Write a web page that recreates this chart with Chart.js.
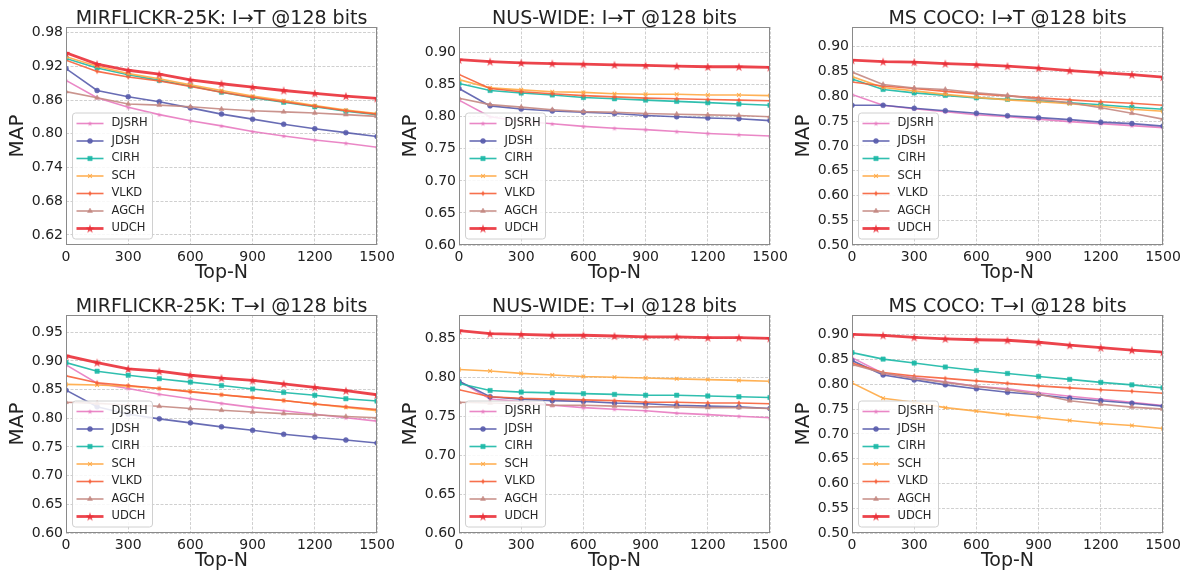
<!DOCTYPE html>
<html>
<head>
<meta charset="utf-8">
<script src="https://cdn.jsdelivr.net/npm/chart.js@4.4.1/dist/chart.umd.min.js"></script>
<style>
  body { margin: 0; background: #fff; width: 1185px; height: 576px; position: relative; overflow: hidden; }
  canvas { position: absolute; }
</style>
</head>
<body>
<canvas id="p0" width="405" height="288" style="left:0;top:0"></canvas>
<canvas id="p1" width="405" height="288" style="left:393px;top:0"></canvas>
<canvas id="p2" width="405" height="288" style="left:786px;top:0"></canvas>
<canvas id="p3" width="405" height="288" style="left:0;top:288px"></canvas>
<canvas id="p4" width="405" height="288" style="left:393px;top:288px"></canvas>
<canvas id="p5" width="405" height="288" style="left:786px;top:288px"></canvas>
<script>
// x positions (Top-N) shared by every panel
const topN = [0, 150, 300, 450, 600, 750, 900, 1050, 1200, 1350, 1500];
const methods = ['DJSRH', 'JDSH', 'CIRH', 'SCH', 'VLKD', 'AGCH', 'UDCH'];

// rows follow the order of `methods`
const mirflickrI2T = [
  [0.895, 0.864, 0.847, 0.834, 0.823, 0.814, 0.804, 0.796, 0.789, 0.783, 0.776],
  [0.916, 0.877, 0.866, 0.857, 0.846, 0.835, 0.826, 0.817, 0.809, 0.802, 0.795],
  [0.934, 0.917, 0.905, 0.895, 0.885, 0.874, 0.864, 0.856, 0.848, 0.840, 0.834],
  [0.937, 0.920, 0.907, 0.898, 0.887, 0.877, 0.867, 0.859, 0.850, 0.842, 0.836],
  [0.931, 0.911, 0.901, 0.894, 0.884, 0.874, 0.865, 0.857, 0.849, 0.841, 0.835],
  [0.875, 0.864, 0.853, 0.851, 0.848, 0.844, 0.841, 0.839, 0.837, 0.834, 0.831],
  [0.944, 0.924, 0.913, 0.906, 0.896, 0.889, 0.883, 0.877, 0.872, 0.867, 0.863]
];
const nuswideI2T = [
  [0.826, 0.800, 0.793, 0.789, 0.785, 0.782, 0.780, 0.777, 0.774, 0.772, 0.770],
  [0.844, 0.817, 0.812, 0.809, 0.807, 0.805, 0.802, 0.800, 0.798, 0.797, 0.794],
  [0.852, 0.841, 0.837, 0.834, 0.830, 0.828, 0.826, 0.824, 0.822, 0.820, 0.818],
  [0.858, 0.845, 0.842, 0.839, 0.838, 0.836, 0.835, 0.835, 0.834, 0.834, 0.833],
  [0.866, 0.844, 0.839, 0.836, 0.833, 0.831, 0.829, 0.828, 0.827, 0.826, 0.825],
  [0.829, 0.819, 0.815, 0.811, 0.808, 0.807, 0.805, 0.804, 0.803, 0.802, 0.800],
  [0.889, 0.886, 0.884, 0.883, 0.882, 0.881, 0.880, 0.879, 0.878, 0.878, 0.877]
];
const mscocoI2T = [
  [0.804, 0.782, 0.775, 0.769, 0.763, 0.759, 0.754, 0.749, 0.745, 0.741, 0.737],
  [0.782, 0.782, 0.776, 0.771, 0.766, 0.761, 0.757, 0.753, 0.748, 0.745, 0.740],
  [0.835, 0.814, 0.807, 0.802, 0.797, 0.794, 0.791, 0.787, 0.783, 0.778, 0.774],
  [0.840, 0.818, 0.811, 0.804, 0.798, 0.793, 0.789, 0.785, 0.780, 0.774, 0.770],
  [0.829, 0.821, 0.816, 0.810, 0.805, 0.801, 0.797, 0.793, 0.789, 0.786, 0.782],
  [0.849, 0.824, 0.817, 0.814, 0.807, 0.802, 0.794, 0.787, 0.777, 0.766, 0.754],
  [0.873, 0.870, 0.869, 0.866, 0.864, 0.861, 0.857, 0.852, 0.848, 0.844, 0.839]
];
const mirflickrT2I = [
  [0.893, 0.861, 0.852, 0.842, 0.834, 0.826, 0.819, 0.813, 0.807, 0.801, 0.795],
  [0.849, 0.820, 0.807, 0.799, 0.792, 0.785, 0.779, 0.772, 0.767, 0.762, 0.757],
  [0.897, 0.882, 0.875, 0.869, 0.863, 0.857, 0.851, 0.845, 0.840, 0.834, 0.830],
  [0.859, 0.858, 0.856, 0.852, 0.847, 0.841, 0.836, 0.831, 0.825, 0.819, 0.813],
  [0.874, 0.862, 0.857, 0.852, 0.846, 0.841, 0.836, 0.831, 0.825, 0.820, 0.815],
  [0.828, 0.826, 0.823, 0.821, 0.817, 0.814, 0.811, 0.808, 0.806, 0.803, 0.801],
  [0.909, 0.897, 0.886, 0.882, 0.875, 0.870, 0.866, 0.860, 0.854, 0.848, 0.841]
];
const nuswideT2I = [
  [0.795, 0.772, 0.769, 0.764, 0.761, 0.759, 0.757, 0.754, 0.752, 0.750, 0.748],
  [0.795, 0.775, 0.772, 0.770, 0.769, 0.767, 0.766, 0.764, 0.763, 0.762, 0.760],
  [0.792, 0.783, 0.781, 0.780, 0.779, 0.778, 0.777, 0.777, 0.776, 0.775, 0.774],
  [0.810, 0.808, 0.805, 0.803, 0.801, 0.800, 0.799, 0.798, 0.797, 0.796, 0.795],
  [0.784, 0.775, 0.773, 0.772, 0.771, 0.770, 0.768, 0.768, 0.767, 0.767, 0.766],
  [0.768, 0.767, 0.766, 0.764, 0.764, 0.763, 0.762, 0.762, 0.761, 0.761, 0.760],
  [0.860, 0.856, 0.855, 0.854, 0.854, 0.853, 0.852, 0.852, 0.851, 0.851, 0.850]
];
const mscocoT2I = [
  [0.854, 0.822, 0.814, 0.805, 0.796, 0.791, 0.783, 0.776, 0.770, 0.764, 0.757],
  [0.848, 0.819, 0.809, 0.799, 0.791, 0.784, 0.779, 0.772, 0.767, 0.762, 0.756],
  [0.864, 0.851, 0.843, 0.835, 0.828, 0.822, 0.816, 0.810, 0.804, 0.799, 0.793],
  [0.803, 0.772, 0.764, 0.753, 0.746, 0.739, 0.733, 0.727, 0.721, 0.717, 0.711],
  [0.843, 0.824, 0.817, 0.812, 0.807, 0.802, 0.797, 0.793, 0.789, 0.786, 0.782],
  [0.840, 0.823, 0.812, 0.804, 0.796, 0.789, 0.780, 0.767, 0.760, 0.754, 0.750],
  [0.901, 0.899, 0.895, 0.892, 0.890, 0.889, 0.885, 0.879, 0.874, 0.869, 0.865]
];

const titles = [
  'MIRFLICKR-25K: I→T @128 bits', 'NUS-WIDE: I→T @128 bits', 'MS COCO: I→T @128 bits',
  'MIRFLICKR-25K: T→I @128 bits', 'NUS-WIDE: T→I @128 bits', 'MS COCO: T→I @128 bits'
];
const yTicksMirI2T = [0.62, 0.68, 0.74, 0.80, 0.86, 0.92, 0.98];
const yTicksNusI2T = [0.60, 0.65, 0.70, 0.75, 0.80, 0.85, 0.90];
const yTicksCocoI2T = [0.50, 0.55, 0.60, 0.65, 0.70, 0.75, 0.80, 0.85, 0.90];
const yTicksMirT2I = [0.60, 0.65, 0.70, 0.75, 0.80, 0.85, 0.90, 0.95];
const yTicksNusT2I = [0.60, 0.65, 0.70, 0.75, 0.80, 0.85];
const yTicksCocoT2I = [0.50, 0.55, 0.60, 0.65, 0.70, 0.75, 0.80, 0.85, 0.90];
const xTicks = [0, 300, 600, 900, 1200, 1500];

const panelData = [mirflickrI2T, nuswideI2T, mscocoI2T, mirflickrT2I, nuswideT2I, mscocoT2I];
const panelTicks = [yTicksMirI2T, yTicksNusI2T, yTicksCocoI2T, yTicksMirT2I, yTicksNusT2I, yTicksCocoT2I];
const panelRange = [[0.602, 0.99], [0.60, 0.94], [0.50, 0.94], [0.60, 0.98], [0.60, 0.88], [0.50, 0.94]];

const FONT = "'DejaVu Sans', sans-serif";
const colors = ['rgba(232,122,192,0.9)', 'rgba(88,92,172,0.9)', 'rgba(26,184,166,0.9)',
                'rgba(255,168,66,0.9)', 'rgba(246,96,58,0.9)', 'rgba(196,136,130,0.9)', 'rgba(234,48,56,0.9)'];

// custom marker shapes matplotlib has and Chart.js does not
function starMarker(r, color) {
  const c = document.createElement('canvas');
  const s = Math.ceil(r * 2 + 2);
  c.width = c.height = s;
  const g = c.getContext('2d');
  g.translate(s / 2, s / 2 + r * 0.1);
  g.beginPath();
  for (let i = 0; i < 10; i++) {
    const rr = i % 2 ? r * 0.382 : r;
    const a = -Math.PI / 2 + i * Math.PI / 5;
    g.lineTo(rr * Math.cos(a), rr * Math.sin(a));
  }
  g.closePath();
  g.fillStyle = color;
  g.fill();
  return c;
}
function thinDiamond(h, w, color) {
  const c = document.createElement('canvas');
  c.width = Math.ceil(w * 2 + 2); c.height = Math.ceil(h * 2 + 2);
  const g = c.getContext('2d');
  const cx = c.width / 2, cy = c.height / 2;
  g.beginPath();
  g.moveTo(cx, cy - h); g.lineTo(cx + w, cy); g.lineTo(cx, cy + h); g.lineTo(cx - w, cy);
  g.closePath();
  g.fillStyle = color;
  g.fill();
  return c;
}

const markers = [
  { pointStyle: starMarker(2.8, colors[0]), pointRadius: 3, pointBorderWidth: 0 },
  { pointStyle: 'circle', pointRadius: 2.5, pointBorderWidth: 0.5 },
  { pointStyle: 'rect', pointRadius: 3.1, pointBorderWidth: 0.5 },
  { pointStyle: 'crossRot', pointRadius: 2.6, pointBorderWidth: 1.1 },
  { pointStyle: thinDiamond(2.7, 1.6, colors[4]), pointRadius: 3, pointBorderWidth: 0 },
  { pointStyle: 'triangle', pointRadius: 2.9, pointBorderWidth: 0.5 },
  { pointStyle: starMarker(4.6, colors[6]), pointRadius: 5, pointBorderWidth: 0 }
];

// axes frame + centred title (matplotlib style)
const frameAndTitle = {
  id: 'frameAndTitle',
  afterDraw(chart, args, opts) {
    const { ctx, chartArea: a } = chart;
    ctx.save();
    ctx.strokeStyle = '#8a8a8a';
    ctx.lineWidth = 1;
    ctx.strokeRect(a.left + 0.5, a.top + 0.5, a.right - a.left - 1, a.bottom - a.top - 1);
    ctx.fillStyle = '#222';
    ctx.font = '19px ' + FONT;
    ctx.textAlign = 'center';
    ctx.textBaseline = 'alphabetic';
    ctx.fillText(opts.text, (a.left + a.right) / 2, a.top - 3.5);
    ctx.restore();
  }
};

// legend box in lower-left corner with line + marker samples
const innerLegend = {
  id: 'innerLegend',
  afterDraw(chart) {
    const { ctx, chartArea: a } = chart;
    const ds = chart.data.datasets;
    const w = 80, h = 126, rowH = 17.5;
    const x = a.left + 6.5, y = a.bottom - 6 - h;
    ctx.save();
    ctx.beginPath();
    ctx.roundRect(x, y, w, h, 3);
    ctx.fillStyle = 'rgba(255,255,255,0.85)';
    ctx.fill();
    ctx.strokeStyle = '#d0d0d0';
    ctx.lineWidth = 1;
    ctx.stroke();
    ds.forEach((d, i) => {
      const cy = y + 10.5 + i * rowH;
      ctx.strokeStyle = d.borderColor;
      ctx.lineWidth = d.borderWidth;
      ctx.beginPath();
      ctx.moveTo(x + 4, cy);
      ctx.lineTo(x + 31, cy);
      ctx.stroke();
      ctx.fillStyle = d.backgroundColor;
      ctx.lineWidth = d.pointBorderWidth;
      Chart.helpers.drawPoint(ctx, { pointStyle: d.pointStyle, radius: d.pointRadius, borderWidth: d.pointBorderWidth, rotation: 0 }, x + 17.5, cy);
      ctx.fillStyle = '#262626';
      ctx.font = '11.5px ' + FONT;
      ctx.textAlign = 'left';
      ctx.textBaseline = 'middle';
      ctx.fillText(d.label, x + 39, cy);
    });
    ctx.restore();
  }
};

panelData.forEach((rows, p) => {
  const datasets = rows.map((vals, i) => ({
    label: methods[i],
    data: vals.map((v, k) => ({ x: topN[k], y: v })),
    borderColor: colors[i],
    backgroundColor: colors[i],
    borderWidth: i === 6 ? 2.8 : 1.6,
    pointStyle: markers[i].pointStyle,
    pointRadius: markers[i].pointRadius,
    pointBorderWidth: markers[i].pointBorderWidth,
    pointBorderColor: colors[i],
    pointBackgroundColor: colors[i],
    tension: 0,
    fill: false,
    clip: 0,
    order: 6 - i
  }));

  new Chart(document.getElementById('p' + p), {
    type: 'line',
    data: { datasets },
    plugins: [frameAndTitle, innerLegend],
    options: {
      responsive: false,
      animation: false,
      events: [],
      layout: { padding: { top: 27, right: 28, left: 0, bottom: 0 } },
      plugins: {
        legend: { display: false },
        tooltip: { enabled: false },
        frameAndTitle: { text: titles[p] }
      },
      scales: {
        x: {
          type: 'linear',
          min: 0,
          max: 1500,
          afterBuildTicks: s => { s.ticks = xTicks.map(v => ({ value: v })); },
          afterFit: s => { s.height = 43; s.paddingLeft = 0; s.paddingRight = 0; },
          ticks: { font: { family: FONT, size: 14 }, color: '#222', padding: 4, maxRotation: 0, autoSkip: false,
                   callback: v => String(v) },
          grid: { color: '#c4c4c4', lineWidth: 0.8, drawTicks: false },
          border: { display: false, dash: [3, 1.5] },
          title: { display: true, text: 'Top-N', font: { family: FONT, size: 19 }, color: '#222',
                   padding: { top: 0, bottom: 3.6 } }
        },
        y: {
          min: panelRange[p][0],
          max: panelRange[p][1],
          afterBuildTicks: s => { s.ticks = panelTicks[p].map(v => ({ value: v })); },
          afterFit: s => { s.width = 66; s.paddingTop = 0; s.paddingBottom = 0; },
          ticks: { font: { family: FONT, size: 14 }, color: '#222', padding: 3, autoSkip: false,
                   callback: v => v.toFixed(2) },
          grid: { color: '#c4c4c4', lineWidth: 0.8, drawTicks: false },
          border: { display: false, dash: [3, 1.5] },
          title: { display: true, text: 'MAP', font: { family: FONT, size: 20 }, color: '#222',
                   padding: { top: 5.5, bottom: 0 } }
        }
      }
    }
  });
});
</script>
</body>
</html>
